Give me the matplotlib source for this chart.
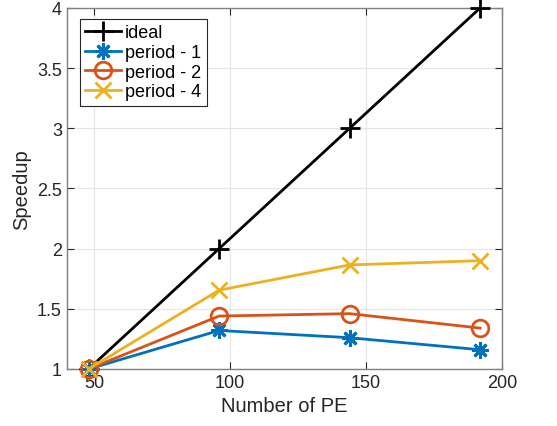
import matplotlib
matplotlib.use("Agg")
import matplotlib.pyplot as plt

pe = [48, 96, 144, 192]
ideal = [1, 2, 3, 4]
period1 = [1, 1.32, 1.26, 1.16]
period2 = [1, 1.44, 1.46, 1.34]
period4 = [1, 1.655, 1.865, 1.90]

plt.rcParams['font.family'] = ['Liberation Sans', 'DejaVu Sans']

fig = plt.figure(figsize=(5.57, 4.27), dpi=100)
ax = fig.add_axes([0.120, 0.1335, 0.781, 0.8455])

asterisk = (8, 2, 0)  # MATLAB-style '*' (plus + x)
ax.plot(pe, ideal, color='black', lw=2, marker='+', ms=14, mew=2, label='ideal', clip_on=False, zorder=3)
ax.plot(pe, period1, color='#0072BD', lw=2, marker=asterisk, ms=12, mew=2, label='period - 1', clip_on=False, zorder=4)
ax.plot(pe, period2, color='#D95319', lw=2, marker='o', ms=12, mew=2, mfc='none', label='period - 2', clip_on=False, zorder=5)
ax.plot(pe, period4, color='#EDB120', lw=2, marker='x', ms=12, mew=2, label='period - 4', clip_on=False, zorder=6)

ax.set_xlim(40, 200)
ax.set_ylim(1, 4)
ax.set_xticks([50, 100, 150, 200])
ax.set_yticks([1, 1.5, 2, 2.5, 3, 3.5, 4])
ax.set_yticklabels(['1', '1.5', '2', '2.5', '3', '3.5', '4'])
ax.grid(True, color='#e6e6e6', lw=0.8)
ax.set_axisbelow(True)
ax.tick_params(direction='in', top=True, right=True, labelsize=13, colors='#262626', length=5)
for s in ax.spines.values():
    s.set_color('#808080')
    s.set_linewidth(1)
    s.set_zorder(2)

ax.set_xlabel('Number of PE', fontsize=14.5, color='#262626')
ax.set_ylabel('Speedup', fontsize=14.5, color='#262626')

leg = ax.legend(loc='upper left', fontsize=13, handlelength=2.0, handletextpad=0.2,
                borderpad=0.3, labelspacing=0.15, fancybox=False, framealpha=1,
                bbox_to_anchor=(0.03, 0.97), borderaxespad=0)
leg.get_frame().set_edgecolor('#262626')
leg.get_frame().set_linewidth(0.8)
leg.set_zorder(10)

fig.savefig('out.png', dpi=100)
